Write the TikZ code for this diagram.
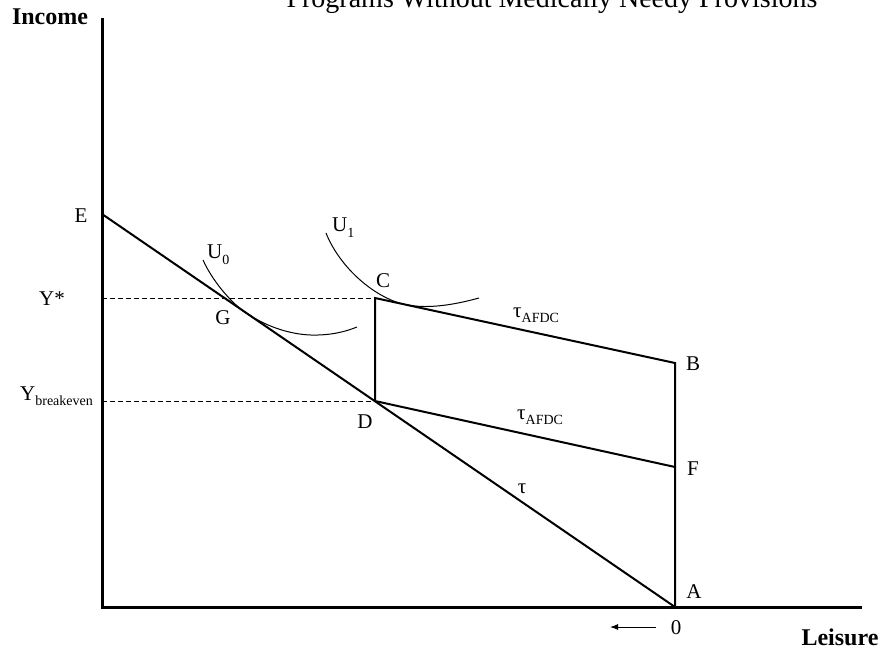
\documentclass[tikz,border=0pt]{standalone}
\usepackage{fontspec}
\setmainfont{Liberation Serif}
\usetikzlibrary{arrows.meta}
\begin{document}
\begin{tikzpicture}[x=1pt,y=-1pt,
 lbl/.style={font=\fontsize{21}{25}\selectfont, inner sep=0pt},
 axlbl/.style={font=\fontsize{24}{28}\selectfont\bfseries, inner sep=0pt},
 axis/.style={line width=3pt, line join=miter},
 budget/.style={line width=2pt, line join=miter},
 icurve/.style={line width=1pt},
 guide/.style={line width=1pt, dash pattern=on 4.5pt off 3.5pt}]
\useasboundingbox (0,0) rectangle (885,656);
\newcommand{\sbs}[1]{\raisebox{-5pt}{\fontsize{14}{16}\selectfont #1}}
% points
\coordinate (Ytop) at (102,18);
\coordinate (O) at (102,607);
\coordinate (Xend) at (862,607);
\coordinate (E) at (102,214);
\coordinate (A) at (675,607);
\coordinate (B) at (675,363);
\coordinate (F) at (675,467);
\coordinate (C) at (375,298);
\coordinate (D) at (375,401);
\coordinate (Ys) at (102,298);
\coordinate (Yb) at (102,401);
\coordinate (arrS) at (656,627);
\coordinate (arrE) at (610,627);
% guides
\draw[guide] (Ys) -- (C);
\draw[guide] (Yb) -- (D);
% axes
\draw[axis] (Ytop) -- (O) -- (Xend);
% budget lines
\draw[budget] (E) -- (A);
\draw[budget] (A) -- (B) -- (C) -- (D) -- (F);
% indifference curves
\draw[icurve] (203,260) .. controls (212,280) and (230,301.7) .. (245,312.3)
  .. controls (268,328) and (295,336) .. (318,335)
  .. controls (335,334.5) and (347,331) .. (357,327);
\draw[icurve] (326,233) .. controls (340,268) and (375,298) .. (405,304.5)
  .. controls (425,308.8) and (450,306) .. (479,298);
% arrow
\draw[line width=1pt, -{Latex[length=8pt,width=6pt]}] (arrS) -- (arrE);
% labels
\node[font=\fontsize{28}{32}\selectfont, anchor=base, inner sep=0pt] (title) at (552,7) {Programs Without Medically Needy Provisions};
\node[axlbl] (income) at (50,17) {Income};
\node[axlbl] (leisure) at (840,637) {Leisure};
\node[lbl] (lE) at (81,216) {E};
\node[lbl, anchor=base west] (lYs) at (39,305) {Y*};
\node[lbl, anchor=base west] (lYb) at (20,400) {Y\sbs{breakeven}};
\node[lbl, anchor=base west] (lU0) at (207,258) {U\raisebox{-6pt}{\fontsize{14}{16}\selectfont 0}};
\node[lbl, anchor=base west] (lU1) at (332,231) {U\raisebox{-6pt}{\fontsize{14}{16}\selectfont 1}};
\node[lbl] (lG) at (223,318) {G};
\node[lbl] (lC) at (383,281) {C};
\node[lbl] (lD) at (365,422) {D};
\node[lbl] (lB) at (693,364) {B};
\node[lbl] (lF) at (693,469) {F};
\node[lbl] (lA) at (694,592) {A};
\node[lbl] (l0) at (676,628) {0};
\node[lbl, anchor=base west] (lt1) at (513,317) {τ\sbs{AFDC}};
\node[lbl, anchor=base west] (lt2) at (517,419) {τ\sbs{AFDC}};
\node[lbl] (lt) at (522,489) {τ};
\end{tikzpicture}
\end{document}
